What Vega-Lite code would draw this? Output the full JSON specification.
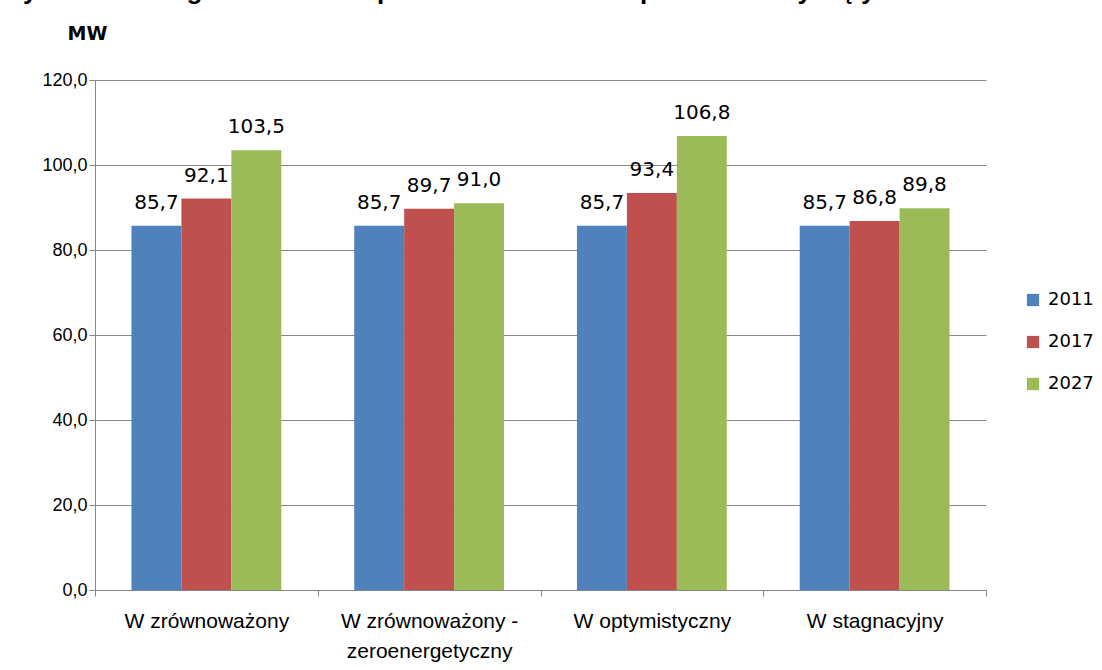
{
  "$schema": "https://vega.github.io/schema/vega-lite/v6.json",
  "width": 891,
  "height": 510,
  "autosize": {"type": "none"},
  "padding": {"left": 95, "top": 80, "right": 116, "bottom": 80},
  "background": "white",
  "title": {
    "text": "Wykres 6-1 Prognoza zmian zapotrzebowania na ciepło dla Gminy Kąty Wrocławskie",
    "anchor": "start",
    "frame": "group",
    "dx": -96,
    "offset": -1,
    "baseline": "alphabetic",
    "font": "Liberation Sans",
    "fontSize": 26,
    "fontWeight": "bold",
    "color": "black"
  },
  "config": {
    "locale": {"number": {"decimal": ",", "thousands": " ", "grouping": [3], "currency": ["", " zł"]}},
    "view": {"stroke": null},
    "axis": {"labelFont": "Liberation Sans", "labelColor": "black", "domainColor": "#868686", "tickColor": "#868686", "gridColor": "#868686"}
  },
  "data": {
    "values": [
      {"scenario": "W zrównoważony", "year": "2011", "value": 85.7},
      {"scenario": "W zrównoważony", "year": "2017", "value": 92.1},
      {"scenario": "W zrównoważony", "year": "2027", "value": 103.5},
      {"scenario": "W zrównoważony - zeroenergetyczny", "year": "2011", "value": 85.7},
      {"scenario": "W zrównoważony - zeroenergetyczny", "year": "2017", "value": 89.7},
      {"scenario": "W zrównoważony - zeroenergetyczny", "year": "2027", "value": 91.0},
      {"scenario": "W optymistyczny", "year": "2011", "value": 85.7},
      {"scenario": "W optymistyczny", "year": "2017", "value": 93.4},
      {"scenario": "W optymistyczny", "year": "2027", "value": 106.8},
      {"scenario": "W stagnacyjny", "year": "2011", "value": 85.7},
      {"scenario": "W stagnacyjny", "year": "2017", "value": 86.8},
      {"scenario": "W stagnacyjny", "year": "2027", "value": 89.8}
    ]
  },
  "encoding": {
    "x": {
      "field": "scenario",
      "type": "nominal",
      "sort": ["W zrównoważony", "W zrównoważony - zeroenergetyczny", "W optymistyczny", "W stagnacyjny"],
      "scale": {"paddingInner": 0, "paddingOuter": 0},
      "axis": {
        "title": null,
        "labelAngle": 0,
        "labelFontSize": 21,
        "labelPadding": 14,
        "labelLineHeight": 30,
        "tickBand": "extent",
        "tickSize": 6,
        "grid": false,
        "labelExpr": "datum.value == 'W zrównoważony - zeroenergetyczny' ? ['W zrównoważony -', 'zeroenergetyczny'] : datum.label"
      }
    },
    "xOffset": {"field": "year", "type": "nominal", "scale": {"paddingInner": 0, "paddingOuter": 0.73}},
    "y": {
      "field": "value",
      "type": "quantitative",
      "scale": {"domain": [0, 120], "nice": false},
      "axis": {
        "values": [0, 20, 40, 60, 80, 100, 120],
        "format": ".1f",
        "labelFontSize": 18,
        "labelPadding": 2,
        "tickSize": 6,
        "grid": true,
        "title": "MW",
        "titleAngle": 0,
        "titleAlign": "left",
        "titleBaseline": "alphabetic",
        "titleX": -28,
        "titleY": -41,
        "titleFont": "DejaVu Sans",
        "titleFontSize": 19,
        "titleFontWeight": "bold",
        "titleColor": "black"
      }
    }
  },
  "layer": [
    {
      "mark": {"type": "bar"},
      "encoding": {
        "color": {
          "field": "year",
          "type": "nominal",
          "scale": {"domain": ["2011", "2017", "2027"], "range": ["#4F81BD", "#C0504D", "#9BBB59"]},
          "legend": {
            "title": null,
            "orient": "none",
            "legendX": 929,
            "legendY": 211,
            "symbolType": "square",
            "symbolSize": 150,
            "symbolStrokeWidth": 0,
            "labelFont": "DejaVu Sans",
            "labelFontSize": 18,
            "labelColor": "black",
            "rowPadding": 24,
            "labelOffset": 6
          }
        }
      }
    },
    {
      "mark": {"type": "text", "dy": -17, "baseline": "alphabetic", "font": "DejaVu Sans", "fontSize": 20, "color": "black"},
      "encoding": {"text": {"field": "value", "type": "quantitative", "format": ".1f"}}
    }
  ]
}
